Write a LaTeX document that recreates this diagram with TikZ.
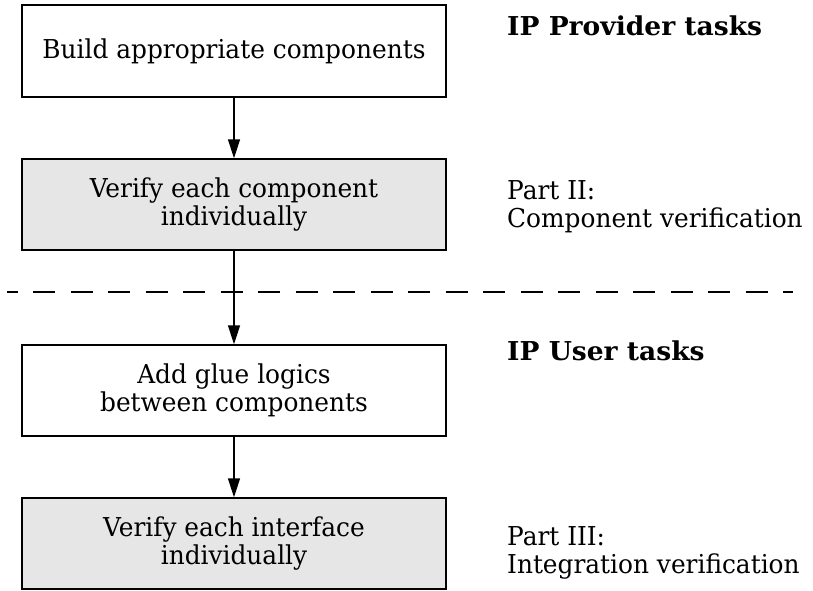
\documentclass[tikz,border=0pt]{standalone}
\usepackage{fontspec}
\setmainfont[UprightFeatures={FakeStretch=0.955},BoldFeatures={FakeStretch=1.02}]{DejaVu Serif}
\usetikzlibrary{arrows.meta}
\definecolor{boxgray}{RGB}{230,230,230}
\begin{document}
\begin{tikzpicture}[x=1pt,y=-1pt,
  every node/.style={font=\fontsize{26}{28}\selectfont},
  task/.style={draw=black, line width=1.5pt, minimum width=424pt, minimum height=91pt, align=center, inner sep=0pt},
  shaded/.style={task, fill=boxgray},
  plain/.style={task, fill=white},
  arr/.style={line width=1.5pt, -{Triangle[length=19pt,width=12pt]}},
  lbl/.style={anchor=west, align=left, inner sep=0pt},
  sep/.style={line width=1.5pt, dash pattern=on 22pt off 15.5pt, dash phase=11.5pt}]
\useasboundingbox (0,0) rectangle (813,590);
\node[plain, minimum height=92pt] (b1) at (234,51) {Build appropriate components};
\node[shaded] (b2) at (234,204.5) {Verify each component\\individually};
\node[plain] (b3) at (234,390.5) {Add glue logics\\between components};
\node[shaded] (b4) at (234,543.5) {Verify each interface\\individually};
\coordinate (dl) at (7,292);
\coordinate (dr) at (793,292);
\draw[sep] (dl) -- (dr);
\draw[arr] (b1.south) -- (b2.north);
\draw[arr] (b2.south) -- (b3.north);
\draw[arr] (b3.south) -- (b4.north);
\node[lbl, anchor=base west] (t1) at (507,35) {\bfseries IP Provider tasks};
\node[lbl] (t2) at (507,207) {Part II:\\Component verification};
\node[lbl, anchor=base west] (t3) at (507,360) {\bfseries IP User tasks};
\node[lbl] (t4) at (507,553) {Part III:\\Integration verification};
\end{tikzpicture}
\end{document}
